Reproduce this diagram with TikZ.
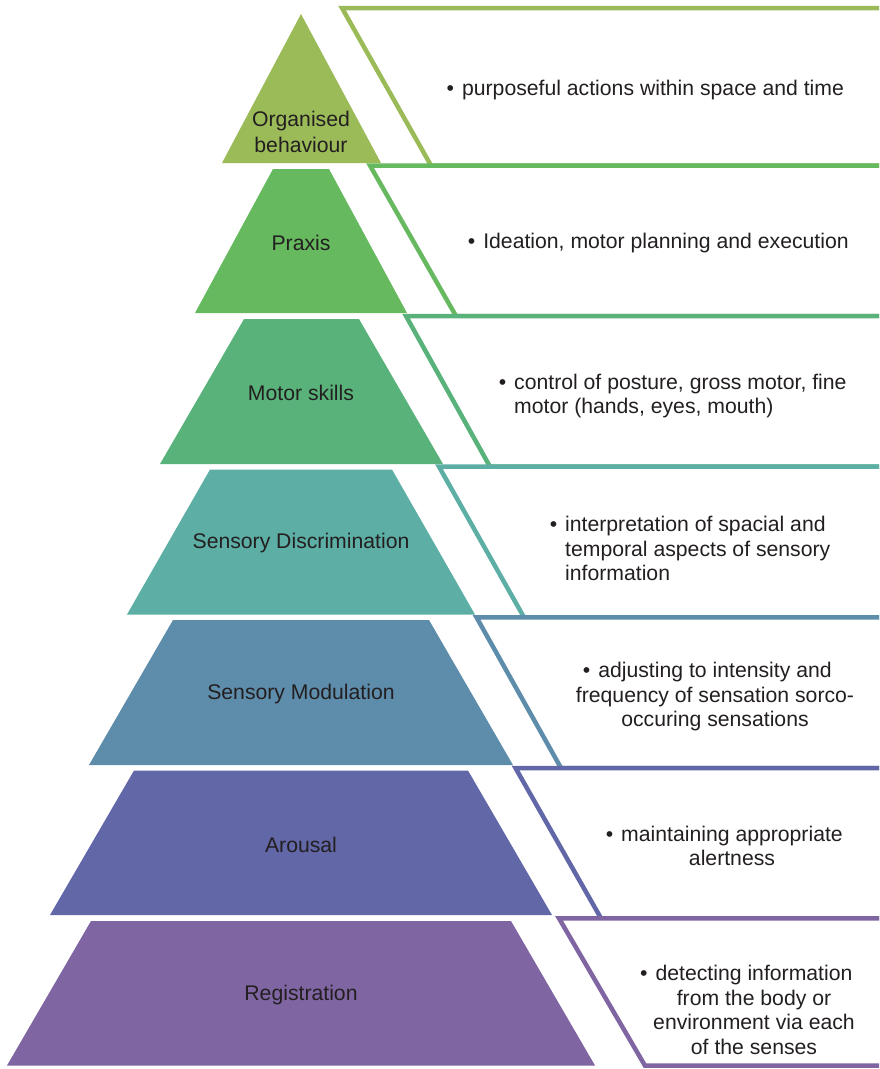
\documentclass[tikz,border=0pt]{standalone}
\usepackage{fontspec}
\setmainfont{Liberation Sans}
\definecolor{ink}{HTML}{231F20}
\definecolor{cA}{HTML}{9BBB59}
\definecolor{cB}{HTML}{66B95E}
\definecolor{cC}{HTML}{58B27A}
\definecolor{cD}{HTML}{5DAFA5}
\definecolor{cE}{HTML}{5E8CAB}
\definecolor{cF}{HTML}{6167A7}
\definecolor{cG}{HTML}{7F65A1}
\newcommand{\bul}{\llap{\textbullet\hspace{8pt}}}
\begin{document}
\begin{tikzpicture}[x=1pt,y=-1pt,
  tier/.style={fill=#1, draw=none},
  panel/.style={draw=#1, fill=white, line width=4.5pt},
  lbl/.style={text=ink, font=\fontsize{21.2}{26}\selectfont, align=center, inner sep=0pt},
  desc/.style={text=ink, font=\fontsize{21.2}{24.5}\selectfont, inner sep=0pt},
]
\useasboundingbox (0,0) rectangle (879,1069);
\clip (0,0) rectangle (879,1069);

% description panels, drawn top to bottom so each top edge covers the one above
\draw[panel=cA] (342,8) -- (900,8) -- (900,165.5) -- (431,165.5) -- cycle;
\draw[panel=cB] (370,165.5) -- (900,165.5) -- (900,316) -- (456,316) -- cycle;
\draw[panel=cC] (406,316) -- (900,316) -- (900,466.7) -- (490,466.7) -- cycle;
\draw[panel=cD] (439,466.7) -- (900,466.7) -- (900,617.3) -- (524,617.3) -- cycle;
\draw[panel=cE] (476.5,617.3) -- (900,617.3) -- (900,768) -- (561,768) -- cycle;
\draw[panel=cF] (515.5,768) -- (900,768) -- (900,918.3) -- (601,918.3) -- cycle;
\draw[panel=cG] (559,918.3) -- (900,918.3) -- (900,1065.7) -- (645,1065.7) -- cycle;

% pyramid tiers
\fill[tier=cA] (301,14) -- (381,163) -- (222,163) -- cycle;
\fill[tier=cB] (273,169) -- (329,169) -- (407,313) -- (195,313) -- cycle;
\fill[tier=cC] (244,319) -- (359,319) -- (443,464) -- (160,464) -- cycle;
\fill[tier=cD] (210,469.5) -- (392,469.5) -- (475,614.5) -- (127,614.5) -- cycle;
\fill[tier=cE] (173,620) -- (429,620) -- (513,765) -- (89,765) -- cycle;
\fill[tier=cF] (134,770.5) -- (468,770.5) -- (552,915) -- (50,915) -- cycle;
\fill[tier=cG] (91,921) -- (511,921) -- (595,1065.5) -- (7,1065.5) -- cycle;

% tier labels
\node[lbl] (organised) at (301,132) {Organised\\behaviour};
\node[lbl] (praxis) at (301,243) {Praxis};
\node[lbl] (motor) at (301,393) {Motor skills};
\node[lbl] (discrimination) at (301,543) {Sensory Discrimination};
\node[lbl] (modulation) at (301,694) {Sensory Modulation};
\node[lbl] (arousal) at (301,845) {Arousal};
\node[lbl] (registration) at (301,995) {Registration};

% descriptions
\node[desc] (dA) at (653,90) {\bul purposeful actions within space and time};
\node[desc] (dB) at (666,243) {\bul Ideation, motor planning and execution};
\node[desc, align=left, anchor=west] (dC) at (514,396)
  {\bul control of posture, gross motor, fine\\motor (hands, eyes, mouth)};
\node[desc, align=left, anchor=west] (dD) at (565,548.5)
  {\bul interpretation of spacial and\\temporal aspects of sensory\\information};
\node[desc, align=center] (dE) at (715,697)
  {\bul adjusting to intensity and\\frequency of sensation sorco-\\occuring sensations};
\node[desc, align=center] (dF) at (732,846)
  {\bul maintaining appropriate\\alertness};
\node[desc, align=center] (dG) at (754,1010)
  {\bul detecting information\\from the body or\\environment via each\\of the senses};
\end{tikzpicture}
\end{document}
